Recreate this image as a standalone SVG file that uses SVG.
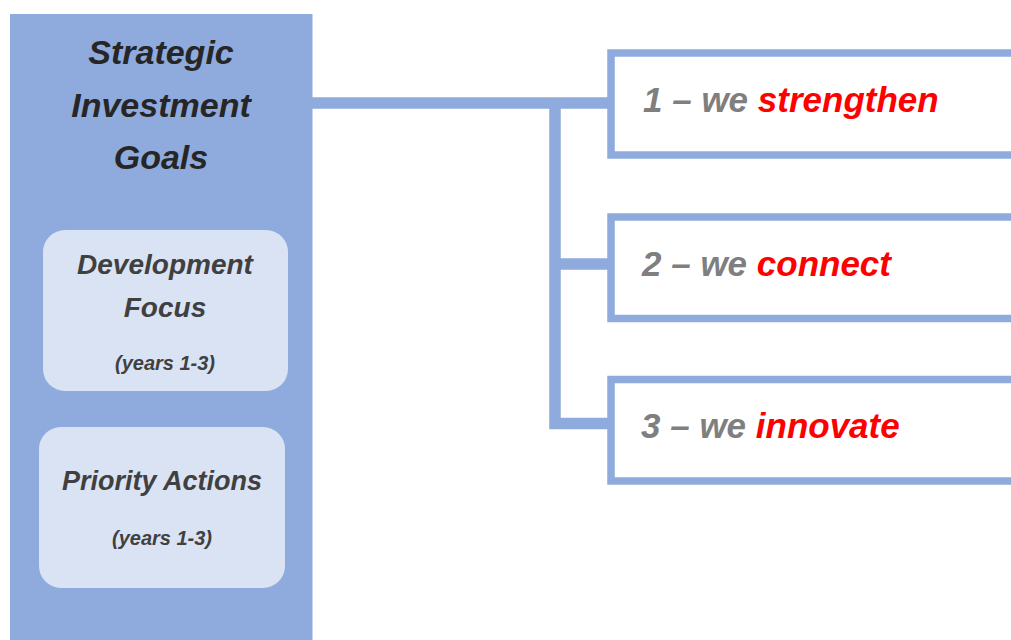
<svg xmlns="http://www.w3.org/2000/svg" width="1011" height="640" viewBox="0 0 1011 640">
<style>
.t{font-family:"Liberation Sans",Arial,sans-serif;font-weight:bold;font-style:italic}
.title{font-size:34px;fill:#262626;text-anchor:middle}
.sub{font-size:28px;fill:#404040;text-anchor:middle}
.yr{font-size:20px;fill:#404040;text-anchor:middle}
.goal{font-size:35px}
.g{fill:#7F7F7F}
.r{fill:#FF0000}
.box{fill:#FFFFFF;stroke:#8FAADC;stroke-width:7.5}
.inner{fill:#DAE3F3}
</style>
<rect width="1011" height="640" fill="#FFFFFF"/>
<g id="panel">
<rect x="10" y="14" width="302.5" height="626" fill="#8FAADC"/>
<text class="t title" x="161" y="64">Strategic</text>
<text class="t title" x="161" y="117">Investment</text>
<text class="t title" x="161" y="169">Goals</text>
</g>
<g id="development-focus">
<rect class="inner" x="43" y="230" width="245" height="161" rx="22"/>
<text class="t sub" x="165" y="274">Development</text>
<text class="t sub" x="165" y="317">Focus</text>
<text class="t yr" x="165" y="370">(years 1-3)</text>
</g>
<g id="priority-actions">
<rect class="inner" x="39" y="427" width="246" height="161" rx="22"/>
<text class="t sub" x="162" y="490" style="font-size:27px">Priority Actions</text>
<text class="t yr" x="162" y="545">(years 1-3)</text>
</g>
<g id="connectors" fill="none" stroke="#8FAADC" stroke-width="11.5" stroke-linejoin="miter">
<path d="M312 103 H611 M555 103 V423.5 H611 M555 264 H611"/>
</g>
<g id="goal1">
<rect class="box" x="611" y="53" width="420" height="102"/>
<text class="t goal" x="643" y="112"><tspan class="g">1 – we </tspan><tspan class="r">strengthen</tspan></text>
</g>
<g id="goal2">
<rect class="box" x="611" y="217" width="420" height="101.5"/>
<text class="t goal" x="642" y="276"><tspan class="g">2 – we </tspan><tspan class="r">connect</tspan></text>
</g>
<g id="goal3">
<rect class="box" x="611" y="379.5" width="420" height="101.5"/>
<text class="t goal" x="641" y="438"><tspan class="g">3 – we </tspan><tspan class="r">innovate</tspan></text>
</g>
</svg>
